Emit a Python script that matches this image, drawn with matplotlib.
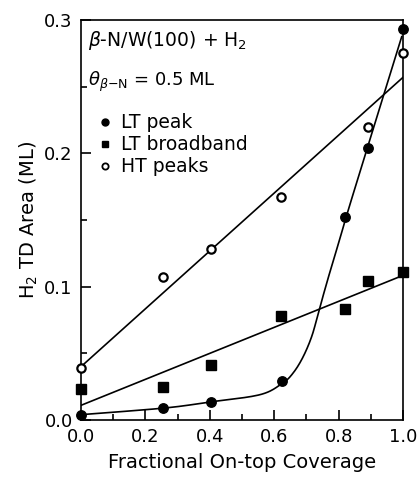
import numpy as np
import matplotlib
matplotlib.use("Agg")
import matplotlib.pyplot as plt
from matplotlib.ticker import MultipleLocator

# Data
lt_peak_x = [0.0, 0.255, 0.405, 0.625, 0.82, 0.89, 1.0]
lt_peak_y = [0.004, 0.009, 0.0135, 0.029, 0.152, 0.204, 0.293]

lt_band_x = [0.0, 0.255, 0.405, 0.62, 0.82, 0.89, 1.0]
lt_band_y = [0.023, 0.025, 0.041, 0.078, 0.083, 0.104, 0.111]

ht_x = [0.0, 0.255, 0.405, 0.62, 0.89, 1.0]
ht_y = [0.039, 0.107, 0.128, 0.167, 0.220, 0.275]

x_ticks = [0.0, 0.2, 0.4, 0.6, 0.8, 1.0]
x_tick_labels = ['0.0', '0.2', '0.4', '0.6', '0.8', '1.0']
y_ticks = [0.0, 0.1, 0.2, 0.3]
y_tick_labels = ['0.0', '0.1', '0.2', '0.3']

# Guide lines (drawn fits)
ht_fit_x = [0.0, 1.0]
ht_fit_y = [0.040, 0.257]
band_fit_x = [0.0, 0.985]
band_fit_y = [0.011, 0.107]
peak_curve_x = [0.0, 0.26, 0.40, 0.556, 0.625, 0.658, 0.689, 0.717, 0.739, 0.767, 0.804, 0.842, 0.996]
peak_curve_y = [0.004, 0.009, 0.0135, 0.019, 0.0275, 0.035, 0.047, 0.063, 0.082, 0.106, 0.136, 0.167, 0.2875]


def catmull_rom(xs, ys, n=20):
    p = np.column_stack([xs, ys])
    p = np.vstack([p[0], p, p[-1]])
    out = []
    for i in range(1, len(p) - 2):
        p0, p1, p2, p3 = p[i - 1], p[i], p[i + 1], p[i + 2]
        t = np.linspace(0, 1, n, endpoint=False)[:, None]
        seg = 0.5 * ((2 * p1) + (-p0 + p2) * t + (2 * p0 - 5 * p1 + 4 * p2 - p3) * t ** 2
                     + (-p0 + 3 * p1 - 3 * p2 + p3) * t ** 3)
        out.append(seg)
    out.append(p[-2][None, :])
    out = np.vstack(out)
    return out[:, 0], out[:, 1]


plt.rcParams['font.family'] = ['DejaVu Sans']
fig = plt.figure(figsize=(4.2, 4.78), dpi=100)
ax = fig.add_axes([81 / 420, 58 / 478, 322 / 420, 400 / 478])

lw = 1.2
ax.plot(ht_fit_x, ht_fit_y, color='black', lw=lw)
ax.plot(band_fit_x, band_fit_y, color='black', lw=lw)
cx, cy = catmull_rom(peak_curve_x, peak_curve_y)
ax.plot(cx, cy, color='black', lw=lw)

ax.plot(lt_peak_x, lt_peak_y, 'o', color='black', ms=6.8, clip_on=False, zorder=5)
ax.plot(lt_band_x, lt_band_y, 's', color='black', ms=6.5, clip_on=False, zorder=5)
ax.plot(ht_x, ht_y, 'o', mfc='white', mec='black', mew=1.6, ms=6, clip_on=False, zorder=5)

ax.set_xlim(0, 1.0)
ax.set_ylim(0, 0.3)
ax.set_xticks(x_ticks)
ax.set_xticklabels(x_tick_labels)
ax.set_yticks(y_ticks)
ax.set_yticklabels(y_tick_labels)
ax.xaxis.set_minor_locator(MultipleLocator(0.1))
ax.yaxis.set_minor_locator(MultipleLocator(0.05))
ax.tick_params(which='both', direction='in', top=False, right=False, width=1.2, labelsize=13)
ax.tick_params(which='major', length=7, pad=6)
ax.tick_params(which='minor', length=4)
for s in ax.spines.values():
    s.set_linewidth(1.2)

ax.set_xlabel('Fractional On-top Coverage', fontsize=14, labelpad=5)
ax.set_ylabel('H$_2$ TD Area (ML)', fontsize=14, labelpad=3)

ax.text(0.022, 0.95, r'$\beta$-N/W(100) + H$_2$', transform=ax.transAxes,
        fontsize=13.5, va='center', ha='left')
ax.text(0.022, 0.845, r'$\theta_{\beta\mathrm{-N}}$ = 0.5 ML', transform=ax.transAxes,
        fontsize=13, va='center', ha='left')

leg_y = [0.745, 0.69, 0.635]
leg_lbl = ['LT peak', 'LT broadband', 'HT peaks']
ax.plot([0.075], [leg_y[0]], 'o', color='black', ms=5, transform=ax.transAxes)
ax.plot([0.075], [leg_y[1]], 's', color='black', ms=5, transform=ax.transAxes)
ax.plot([0.075], [leg_y[2]], 'o', mfc='white', mec='black', mew=1.3, ms=4.5, transform=ax.transAxes)
for yy, t in zip(leg_y, leg_lbl):
    ax.text(0.125, yy, t, transform=ax.transAxes, fontsize=13.5, va='center', ha='left')

fig.savefig('out.png', dpi=100)
